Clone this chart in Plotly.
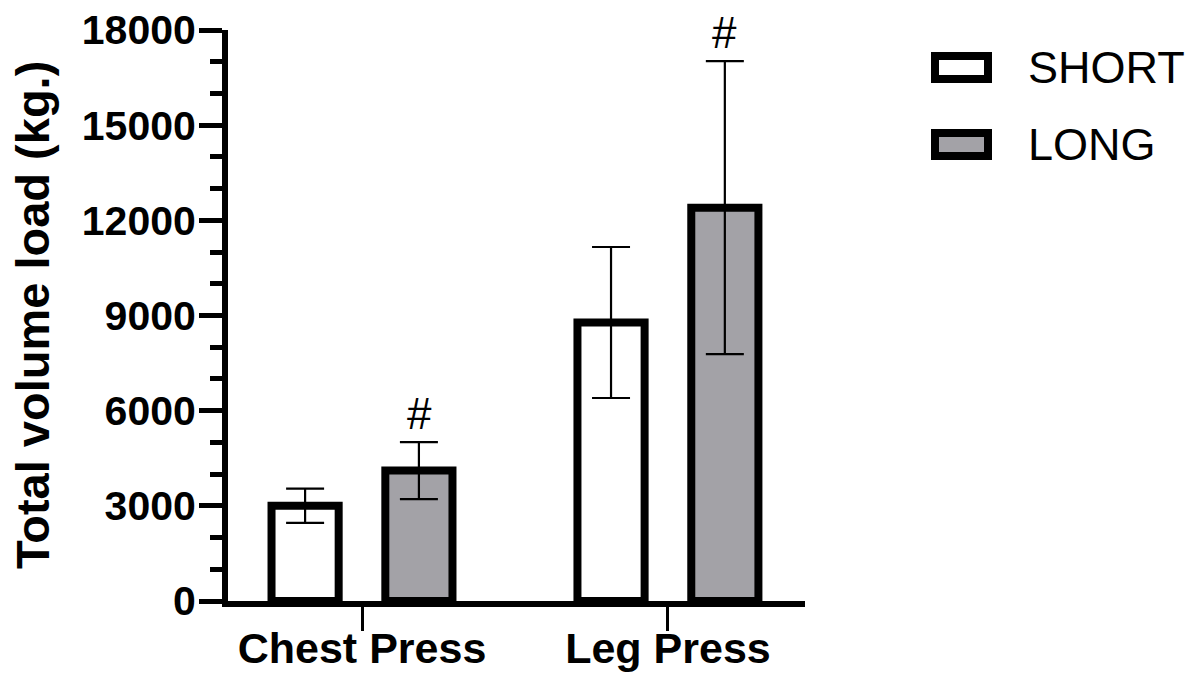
import plotly.graph_objects as go

categories = ["Chest Press", "Leg Press"]
series_names = ["SHORT", "LONG"]
short_mean = [3000, 8780]
short_sd = [540, 2380]
long_mean = [4110, 12400]
long_sd = [900, 4620]
long_marks = ["#", "#"]
y_ticks = [0, 3000, 6000, 9000, 12000, 15000, 18000]
y_title = "Total volume load (kg.)"

FONT = "Arial, Liberation Sans, sans-serif"
GRAY = "#a3a2a7"

fig = go.Figure()
fig.add_trace(go.Bar(
    x=categories, y=short_mean, name=series_names[0],
    marker=dict(color="white", line=dict(color="black", width=8)),
    error_y=dict(type="data", array=short_sd, visible=True, color="black", thickness=2.2, width=19),
    showlegend=False,
))
fig.add_trace(go.Bar(
    x=categories, y=long_mean, name=series_names[1],
    marker=dict(color=GRAY, line=dict(color="black", width=8)),
    error_y=dict(type="data", array=long_sd, visible=True, color="black", thickness=2.2, width=19),
    showlegend=False,
))

# significance marks above LONG bars
for cat, m, s, mark in zip(categories, long_mean, long_sd, long_marks):
    fig.add_annotation(x=cat, y=m + s, xref="x", yref="y", text=mark, showarrow=False,
                       xshift=57, yshift=2, yanchor="bottom",
                       font=dict(family=FONT, size=44, color="black"))

L, R, T, B = 228, 805, 30, 601
def px(xp):
    return (xp - L) / (R - L)
def py(yp):
    return (B - yp) / (B - T)

# y-axis title
fig.add_annotation(x=px(32), y=py(315), xref="paper", yref="paper", text=y_title,
                   textangle=-90, showarrow=False, xanchor="center", yanchor="middle",
                   font=dict(family=FONT, size=47, color="black", weight="bold"))

# custom legend (large boxes like the original)
legend_fills = ["white", GRAY]
for i, (name, fill) in enumerate(zip(series_names, legend_fills)):
    top = 56 + 77 * i
    fig.add_shape(type="rect", xref="paper", yref="paper",
                  x0=px(935), x1=px(988), y0=py(top), y1=py(top + 23),
                  fillcolor=fill, line=dict(color="black", width=8))
    fig.add_annotation(x=px(1026), y=py(top + 11.5), xref="paper", yref="paper",
                       text=name, showarrow=False, xanchor="left", yanchor="middle",
                       font=dict(family=FONT, size=45, color="black"))

fig.update_layout(
    width=1195, height=681,
    margin=dict(l=L, r=1195 - R, t=T, b=681 - B, pad=0, autoexpand=False),
    paper_bgcolor="white", plot_bgcolor="white",
    barmode="group", bargap=0.256, bargroupgap=0.41,
    font=dict(family=FONT, color="black"),
)
fig.update_xaxes(
    type="category", range=[-0.438, 1.448], automargin=False,
    showline=True, linecolor="black", linewidth=6,
    ticks="outside", ticklen=24, tickwidth=3, tickcolor="black",
    tickfont=dict(family=FONT, size=43, color="black", weight="bold"),
    ticklabelstandoff=-20,
    showgrid=False, zeroline=False,
)
fig.update_yaxes(
    range=[0, 18000], tickvals=y_ticks, ticktext=[str(v) for v in y_ticks], automargin=False,
    showline=True, linecolor="black", linewidth=6,
    ticks="outside", ticklen=23, tickwidth=5, tickcolor="black",
    minor=dict(dtick=1000, ticks="outside", ticklen=12, tickwidth=5, tickcolor="black", showgrid=False),
    tickfont=dict(family=FONT, size=41, color="black", weight="bold"),
    ticklabelstandoff=-5,
    showgrid=False, zeroline=False,
)

fig.write_html("out.html", config={"displayModeBar": False},
               post_script="document.body.style.margin='0px';")
